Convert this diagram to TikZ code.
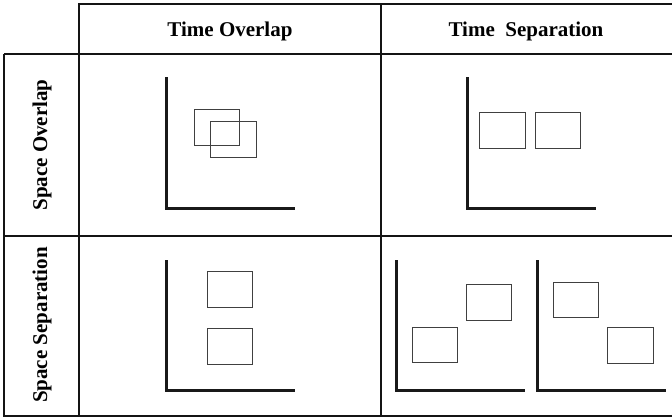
\documentclass[tikz,border=0pt]{standalone}
\usepackage{fontspec}
\setmainfont{Liberation Serif}
\begin{document}
\begin{tikzpicture}[x=1pt,y=-1pt,
  grid/.style={line width=2pt,black!92},
  axis/.style={line width=3pt,black!90},
  box/.style={line width=1pt,black!75},
  hdr/.style={font=\fontsize{21}{25}\selectfont\bfseries,inner sep=0pt,anchor=base}]
\useasboundingbox (0,0) rectangle (672,418);
% table
\draw[grid] (79,4) -- (672,4);
\draw[grid] (4,53.5) -- (672,53.5);
\draw[grid] (4,235.5) -- (672,235.5);
\draw[grid] (3,416) -- (672,416);
\draw[grid] (4,53.5) -- (4,417);
\draw[grid] (79,3) -- (79,417);
\draw[grid] (381,4) -- (381,417);
% headers
\node[hdr] (h1) at (230,36) {Time Overlap};
\node[hdr] (h2) at (526,36) {Time\ \ Separation};
\node[hdr,rotate=90] (r1) at (47,145) {Space Overlap};
\node[hdr,rotate=90] (r2) at (47,325) {Space Separation};
% cell 1: space overlap / time overlap
\draw[axis] (166,77) -- (166,208) -- (295,208);
\draw[box] (194,109) rectangle (239,145);
\draw[box] (210,121) rectangle (256,157);
% cell 2: space overlap / time separation
\draw[axis] (467,77) -- (467,208) -- (596,208);
\draw[box] (479,112) rectangle (525,148);
\draw[box] (535,112) rectangle (580,148);
% cell 3: space separation / time overlap
\draw[axis] (166,260) -- (166,390) -- (295,390);
\draw[box] (207,271) rectangle (252,307);
\draw[box] (207,328) rectangle (252,364);
% cell 4: space separation / time separation
\draw[axis] (396,260) -- (396,390) -- (525,390);
\draw[box] (412,327) rectangle (457,362);
\draw[box] (466,284) rectangle (511,320);
\draw[axis] (537,260) -- (537,390) -- (666,390);
\draw[box] (553,282) rectangle (598,317);
\draw[box] (607,327) rectangle (653,363);
\end{tikzpicture}
\end{document}
